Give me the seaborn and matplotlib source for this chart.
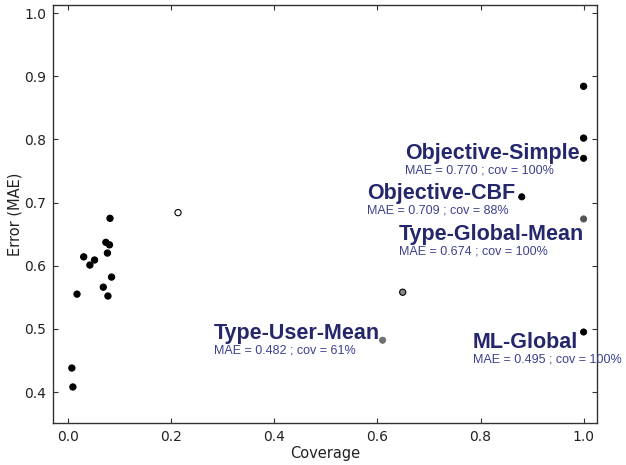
import matplotlib
matplotlib.use("Agg")
import matplotlib.pyplot as plt
import seaborn as sns
import pandas as pd

# ---- data ----
coverage = [0.007, 0.009, 0.017, 0.030, 0.042, 0.051, 0.068, 0.077, 0.084,
            0.076, 0.073, 0.080, 0.081, 0.213, 0.649, 1.00, 1.00]
mae = [0.438, 0.408, 0.555, 0.614, 0.601, 0.609, 0.566, 0.552, 0.582,
       0.620, 0.637, 0.633, 0.675, 0.684, 0.558, 0.884, 0.802]

method_names = ["Objective-Simple", "Objective-CBF", "Type-Global-Mean",
                "Type-User-Mean", "ML-Global"]
method_cov = [1.00, 0.88, 1.00, 0.61, 1.00]
method_mae = [0.770, 0.709, 0.674, 0.482, 0.495]

xticks = [0.0, 0.2, 0.4, 0.6, 0.8, 1.0]
yticks = [0.4, 0.5, 0.6, 0.7, 0.8, 0.9, 1.0]

# ---- styling ----
sns.set_theme(style="ticks")
plt.rcParams["font.family"] = ["DejaVu Sans"]

W, H = 626, 465
fig = plt.figure(figsize=(W / 100, H / 100), dpi=100)
ax = fig.add_axes([53.3 / W, 1 - 423.3 / H, (597 - 53.3) / W, (423.3 - 5) / H])

df_pts = pd.DataFrame({"coverage": coverage, "mae": mae})
df_m = pd.DataFrame({"name": method_names, "coverage": method_cov, "mae": method_mae})

# facecolours for a few points that appear hollow/grey in the reference
pt_face = ["black"] * len(coverage)
pt_face[13] = "white"
pt_face[14] = "#8a8a8a"
m_face = ["black", "black", "#555555", "#707070", "black"]

sns.scatterplot(data=df_pts, x="coverage", y="mae", ax=ax, s=20,
                c=pt_face, edgecolor="black", linewidth=0.8, legend=False)
sns.scatterplot(data=df_m, x="coverage", y="mae", ax=ax, s=20,
                c=m_face, edgecolor=m_face, linewidth=0.6, legend=False)

ax.set_xlim(-0.029, 1.026)
ax.set_ylim(0.3505, 1.0127)
ax.set_xticks(xticks)
ax.set_yticks(yticks)
ax.set_xticklabels([f"{t:.1f}" for t in xticks])
ax.set_yticklabels([f"{t:.1f}" for t in yticks])
ax.tick_params(direction="in", length=3.5, width=0.8, color="#333333",
               top=True, right=True, labelsize=10, labelcolor="#222222", pad=5)
for sp in ax.spines.values():
    sp.set_visible(True)
    sp.set_linewidth(1.0)
    sp.set_color("#333333")
ax.set_xlabel("Coverage", fontsize=10.5, color="#222222", labelpad=1)
ax.set_ylabel("Error (MAE)", fontsize=10.5, color="#222222", labelpad=1)

# label offsets (points) of each title's right/baseline from its marker
offsets = [(-2.9, -0.8), (-4.8, -1.3), (0.5, -15.2), (-2.2, 0.6), (-4.3, -11.6)]
title_col = "#24276b"
sub_col = "#3c418e"
for name, c, m, off in zip(method_names, method_cov, method_mae, offsets):
    t = ax.annotate(name, xy=(c, m), xytext=off, textcoords="offset points",
                    ha="right", va="baseline", fontsize=15.5, fontweight="bold",
                    family=["Liberation Sans", "DejaVu Sans"], color=title_col,
                    annotation_clip=False)
    ax.annotate(f"MAE = {m:.3f} ; cov = {round(c * 100)}%", xy=(0, 0), xycoords=t,
                xytext=(0.3, -0.3), textcoords="offset points", ha="left",
                va="top", fontsize=9, family=["Liberation Sans", "DejaVu Sans"],
                color=sub_col, annotation_clip=False)

fig.savefig("out.png", dpi=100)
